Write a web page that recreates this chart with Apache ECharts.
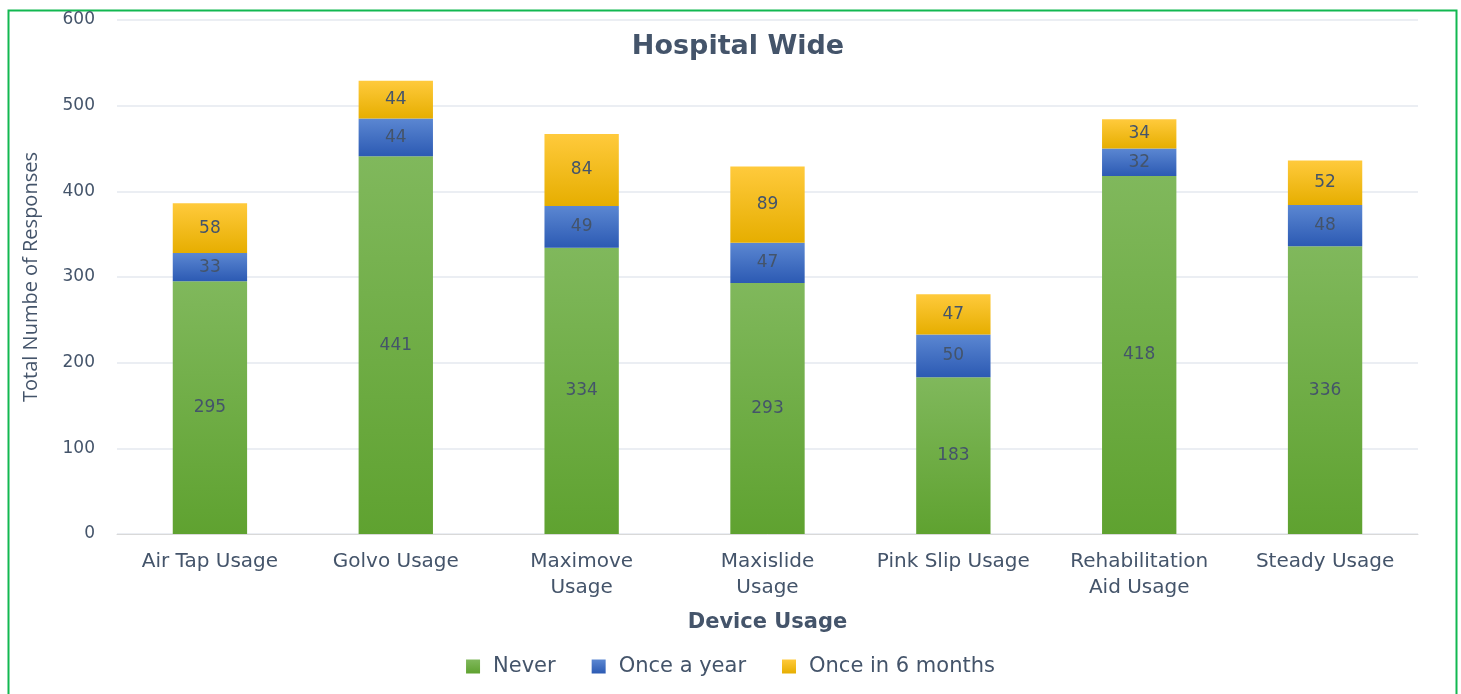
<!DOCTYPE html>
<html>
<head>
<meta charset="utf-8">
<script src="https://cdn.jsdelivr.net/npm/echarts@6/dist/echarts.min.js"></script>
<style>
html,body{margin:0;padding:0;background:#fff;}
#chart{width:1461px;height:694px;}
</style>
</head>
<body>
<div id="chart"></div>
<script>
var categories = ["Air Tap Usage", "Golvo Usage", "Maximove Usage", "Maxislide Usage", "Pink Slip Usage", "Rehabilitation Aid Usage", "Steady Usage"];
var categoryLabels = ["Air Tap Usage", "Golvo Usage", "Maximove\nUsage", "Maxislide\nUsage", "Pink Slip Usage", "Rehabilitation\nAid Usage", "Steady Usage"];
var never = [295, 441, 334, 293, 183, 418, 336];
var onceAYear = [33, 44, 49, 47, 50, 32, 48];
var onceIn6Months = [58, 44, 84, 89, 47, 34, 52];
var seriesNames = ["Never", "Once a year", "Once in 6 months"];

var chart = echarts.init(document.getElementById('chart'), null, {renderer: 'canvas'});

function grad(top, bottom) {
  return new echarts.graphic.LinearGradient(0, 0, 0, 1, [
    {offset: 0, color: top}, {offset: 1, color: bottom}
  ]);
}

var FONT = 'DejaVu Sans';
var labelStyle = {
  show: true,
  position: 'inside',
  color: '#44546a',
  fontFamily: FONT,
  fontSize: 17
};

var option = {
  backgroundColor: '#fff',
  animation: false,
  title: {
    text: 'Hospital Wide',
    left: 733,
    textAlign: 'center',
    top: 28,
    textStyle: {fontFamily: FONT, fontWeight: 'bold', fontSize: 27, color: '#44546a'}
  },
  legend: {
    bottom: 12,
    left: 'center',
    itemWidth: 14,
    itemHeight: 14,
    itemGap: 36,
    icon: 'rect',
    textStyle: {fontFamily: FONT, fontSize: 21, color: '#44546a', padding: [0, 0, 0, 8]},
    data: seriesNames
  },
  grid: {left: 117, right: 43, top: 20, bottom: 160, containLabel: false},
  xAxis: {
    type: 'category',
    data: categories,
    name: 'Device Usage',
    nameLocation: 'middle',
    nameGap: 78,
    nameTextStyle: {fontFamily: FONT, fontWeight: 'bold', fontSize: 21, color: '#44546a'},
    axisLine: {lineStyle: {color: '#d9d9d9'}},
    axisTick: {show: false},
    axisLabel: {
      interval: 0,
      margin: 15,
      fontFamily: FONT,
      fontSize: 20,
      lineHeight: 26,
      color: '#44546a',
      formatter: function (v, i) { return categoryLabels[i]; }
    }
  },
  yAxis: {
    type: 'value',
    min: 0,
    max: 600,
    interval: 100,
    name: 'Total Numbe of Responses',
    nameLocation: 'middle',
    nameGap: 76,
    nameTextStyle: {fontFamily: 'Open Sans', fontSize: 20, color: '#44546a'},
    axisLine: {show: false},
    axisTick: {show: false},
    splitLine: {lineStyle: {color: '#e4e8ef', width: 1.5}},
    axisLabel: {fontFamily: FONT, fontSize: 17, color: '#44546a', margin: 22}
  },
  series: [
    {
      name: seriesNames[0], type: 'bar', stack: 'total', data: never, barWidth: '40%',
      itemStyle: {color: grad('#80b85c', '#5fa230')},
      label: labelStyle
    },
    {
      name: seriesNames[1], type: 'bar', stack: 'total', data: onceAYear, barWidth: '40%',
      itemStyle: {color: grad('#5b87d2', '#2c5ab3')},
      label: labelStyle
    },
    {
      name: seriesNames[2], type: 'bar', stack: 'total', data: onceIn6Months, barWidth: '40%',
      itemStyle: {color: grad('#ffca3c', '#e6ae00')},
      label: labelStyle
    }
  ],
  graphic: [{
    type: 'rect',
    shape: {x: 8.5, y: 10.5, width: 1448, height: 700},
    style: {fill: 'none', stroke: '#12b851', lineWidth: 2},
    silent: true
  }]
};
chart.setOption(option);
</script>
</body>
</html>
